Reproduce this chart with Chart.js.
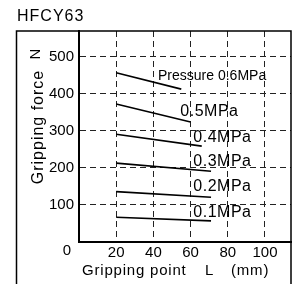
<!DOCTYPE html>
<html>
<head>
<meta charset="utf-8">
<script src="https://cdn.jsdelivr.net/npm/chart.js@4/dist/chart.umd.min.js"></script>
<style>
  html, body { margin: 0; padding: 0; background: #fff; }
  #wrap { width: 297px; height: 284px; }
</style>
</head>
<body>
<div id="wrap"><canvas id="gripChart" width="297" height="284"></canvas></div>
<script>
// data
const pressures = ['0.6', '0.5', '0.4', '0.3', '0.2', '0.1'];
const lineX = [[20, 55], [20, 60], [20, 66], [20, 71], [20, 71], [20, 71]];
const lineY = [[457, 413], [373, 324], [291, 259], [213, 191], [136, 121], [67, 57]];
const labelText = ['Pressure 0.6MPa', '0.5MPa', '0.4MPa', '0.3MPa', '0.2MPa', '0.1MPa'];
const labelX = [42.5, 54.5, 61.5, 61.5, 61.5, 61.5];
const labelY = [449, 351, 283, 216, 149, 79];
const xTicks = [0, 20, 40, 60, 80, 100];
const yTicks = [0, 100, 200, 300, 400, 500];

const FONT = '"Liberation Sans", Arial, sans-serif';

const datasets = pressures.map((p, i) => ({
    label: p + 'MPa',
    data: lineX[i].map((x, j) => ({ x: x, y: lineY[i][j] })),
    borderColor: '#000',
    borderWidth: 1.6,
    pointRadius: 0,
    showLine: true,
    fill: false
}));

// frame, titles and line labels
const decorPlugin = {
    id: 'decor',
    afterDraw(chart) {
        const ctx = chart.ctx;
        const area = chart.chartArea;
        const xs = chart.scales.x, ys = chart.scales.y;
        ctx.save();

        // outer box
        ctx.strokeStyle = '#000';
        ctx.lineWidth = 1.5;
        ctx.beginPath();
        ctx.moveTo(16.5, 290);
        ctx.lineTo(16.5, area.top);
        ctx.lineTo(area.right, area.top);
        ctx.lineTo(area.right, 290);
        ctx.stroke();

        ctx.fillStyle = '#000';
        ctx.textBaseline = 'middle';
        ctx.textAlign = 'left';
        ctx.letterSpacing = '1px';
        ctx.font = '16px ' + FONT;
        ctx.fillText('HFCY63', 17, 17);

        // corner zero
        ctx.letterSpacing = '0px';
        ctx.font = '15px ' + FONT;
        ctx.textAlign = 'center';
        ctx.fillText('0', 67, 251);

        // x title
        ctx.letterSpacing = '0.8px';
        ctx.textAlign = 'left';
        ctx.fillText('Gripping point', 82, 271);
        ctx.fillText('L', 205, 271);
        ctx.fillText('(mm)', 231, 271);

        // y title
        ctx.save();
        ctx.letterSpacing = '1px';
        ctx.font = '16px ' + FONT;
        ctx.translate(38.5, 127);
        ctx.rotate(-Math.PI / 2);
        ctx.textAlign = 'center';
        ctx.fillText('Gripping force', 0, 0);
        ctx.restore();
        ctx.save();
        ctx.letterSpacing = '0px';
        ctx.font = '15px ' + FONT;
        ctx.translate(36, 54);
        ctx.rotate(-Math.PI / 2);
        ctx.textAlign = 'center';
        ctx.fillText('N', 0, 0);
        ctx.restore();

        // pressure labels
        ctx.textAlign = 'left';
        labelText.forEach((t, i) => {
            if (i === 0) {
                ctx.letterSpacing = '0px';
                ctx.font = '14px ' + FONT;
            } else {
                ctx.letterSpacing = '0.5px';
                ctx.font = '16px ' + FONT;
            }
            ctx.fillText(t, xs.getPixelForValue(labelX[i]), ys.getPixelForValue(labelY[i]));
        });
        ctx.restore();
    }
};

new Chart(document.getElementById('gripChart'), {
    type: 'scatter',
    data: { datasets: datasets },
    options: {
        responsive: false,
        animation: false,
        layout: { padding: { top: 31, right: 6, left: 0, bottom: 0 } },
        plugins: { legend: { display: false }, tooltip: { enabled: false } },
        scales: {
            x: {
                type: 'linear',
                min: 0,
                max: 114,
                afterBuildTicks: s => { s.ticks = xTicks.map(v => ({ value: v })); },
                afterFit: s => { s.height = 42; },
                grid: { color: '#222', lineWidth: 1, drawTicks: false },
                border: { color: '#000', width: 2, dash: [6, 4] },
                ticks: {
                    color: '#000',
                    font: { family: FONT, size: 15 },
                    padding: 2,
                    maxRotation: 0,
                    callback: v => (v === 0 ? '' : v)
                }
            },
            y: {
                type: 'linear',
                min: 0,
                max: 570,
                afterBuildTicks: s => { s.ticks = yTicks.map(v => ({ value: v })); },
                afterFit: s => { s.width = 79; },
                grid: { color: '#222', lineWidth: 1, drawTicks: false },
                border: { color: '#000', width: 2, dash: [6, 4] },
                ticks: {
                    color: '#000',
                    font: { family: FONT, size: 15 },
                    padding: 5,
                    callback: v => (v === 0 ? '' : v)
                }
            }
        }
    },
    plugins: [decorPlugin]
});
</script>
</body>
</html>
